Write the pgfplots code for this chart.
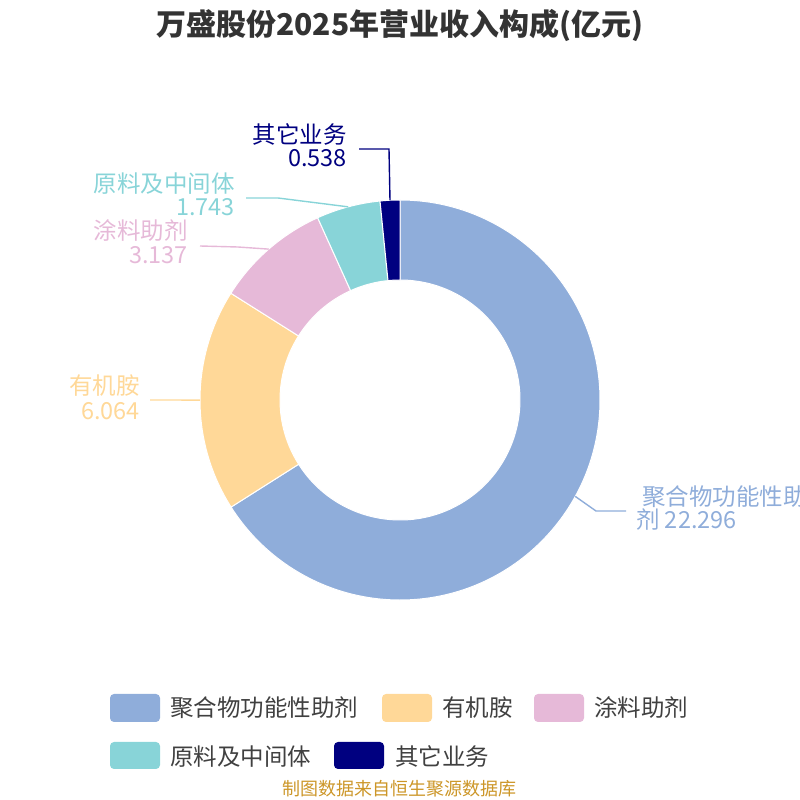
\documentclass[border=0pt]{standalone}
\usepackage{pgfplots}
\pgfplotsset{compat=1.18}
\usepackage{pgfplotstable}
\usepackage{fontspec}
\setmainfont{Noto Sans CJK SC}
\usetikzlibrary{calc}

\definecolor{cA}{RGB}{143,173,218}
\definecolor{cB}{RGB}{255,216,152}
\definecolor{cC}{RGB}{230,185,216}
\definecolor{cD}{RGB}{136,212,216}
\definecolor{cE}{RGB}{0,0,128}
\definecolor{titlec}{RGB}{51,51,51}
\definecolor{legc}{RGB}{64,64,64}
\definecolor{srcc}{RGB}{204,150,40}

\pgfplotstableread{
name value
A 22.296
B 6.064
C 3.137
D 1.743
E 0.538
}\datatable

\newcommand\sector[3]{%
  \fill[#1, draw=white, line width=1bp]
    ($(axis cs:400,400)+(#2:200bp)$) arc[start angle=#2, end angle=#3, radius=200bp]
    -- ($(axis cs:400,400)+(#3:120bp)$) arc[start angle=#3, end angle=#2, radius=120bp]
    -- cycle;}

\tikzset{lab/.style={inner sep=0, font=\fontsize{23.5bp}{24bp}\selectfont}}

\begin{document}
\begin{tikzpicture}
\useasboundingbox (0,0) rectangle (800bp,800bp);
\pgfplotstablegetelem{0}{value}\of\datatable \pgfmathsetmacro\vA{\pgfplotsretval}
\pgfplotstablegetelem{1}{value}\of\datatable \pgfmathsetmacro\vB{\pgfplotsretval}
\pgfplotstablegetelem{2}{value}\of\datatable \pgfmathsetmacro\vC{\pgfplotsretval}
\pgfplotstablegetelem{3}{value}\of\datatable \pgfmathsetmacro\vD{\pgfplotsretval}
\pgfplotstablegetelem{4}{value}\of\datatable \pgfmathsetmacro\vE{\pgfplotsretval}
\pgfmathsetmacro\T{\vA+\vB+\vC+\vD+\vE}
\pgfmathsetmacro\aA{90}
\pgfmathsetmacro\aB{\aA-360*\vA/\T}
\pgfmathsetmacro\aC{\aB-360*\vB/\T}
\pgfmathsetmacro\aD{\aC-360*\vC/\T}
\pgfmathsetmacro\aE{\aD-360*\vD/\T}
\pgfmathsetmacro\aF{\aE-360*\vE/\T}
\pgfmathsetmacro\mA{(\aA+\aB)/2}
\pgfmathsetmacro\mB{(\aB+\aC)/2}
\pgfmathsetmacro\mC{(\aC+\aD)/2}
\pgfmathsetmacro\mD{(\aD+\aE)/2}
\pgfmathsetmacro\mE{(\aE+\aF)/2}
\begin{axis}[
  at={(0,0)}, anchor=south west,
  scale only axis, width=800bp, height=800bp,
  xmin=0, xmax=800, ymin=0, ymax=800,
  hide axis, clip=false]
\addplot[draw=none, forget plot] coordinates {(0,0) (800,800)};
\sector{cA}{\aA}{\aB}
\sector{cB}{\aB}{\aC}
\sector{cC}{\aC}{\aD}
\sector{cD}{\aD}{\aE}
\sector{cE}{\aE}{\aF}
% leader lines
\draw[cA, line width=1.4bp] ($(axis cs:400,400)+(\mA:200bp)$) -- (axis cs:596,289) -- (axis cs:626,289);
\draw[cB, line width=1.4bp] ($(axis cs:400,400)+(\mB:200bp)$) -- (axis cs:175,400) -- (axis cs:150,400);
\draw[cC, line width=1.4bp] ($(axis cs:400,400)+(\mC:200bp)$) -- (axis cs:238,553) -- (axis cs:200,554);
\draw[cD, line width=1.4bp] ($(axis cs:400,400)+(\mD:200bp)$) -- (axis cs:278,602) -- (axis cs:246,602);
\draw[cE, line width=1.4bp] ($(axis cs:400,400)+(\mE:200bp)$) -- (axis cs:389,651) -- (axis cs:359,651);
% labels
\node[cA, lab, anchor=base west] at (axis cs:642,295) {聚合物功能性助剂};
\node[cA, lab, anchor=base west] at (axis cs:636,272) {剂 22.296};
\node[cB, lab, anchor=base east] at (axis cs:140,405) {有机胺};
\node[cB, lab, anchor=base east] at (axis cs:140,381) {6.064};
\node[cC, lab, anchor=base east] at (axis cs:188,560) {涂料助剂};
\node[cC, lab, anchor=base east] at (axis cs:188,536) {3.137};
\node[cD, lab, anchor=base east] at (axis cs:235,607.5) {原料及中间体};
\node[cD, lab, anchor=base east] at (axis cs:235,584) {1.743};
\node[cE, lab, anchor=base east] at (axis cs:347,656) {其它业务};
\node[cE, lab, anchor=base east] at (axis cs:347,633) {0.538};
% legend
\fill[cA, rounded corners=4bp] (axis cs:110,78) rectangle (axis cs:160,106);
\fill[cB, rounded corners=4bp] (axis cs:382,78) rectangle (axis cs:432,106);
\fill[cC, rounded corners=4bp] (axis cs:534,78) rectangle (axis cs:584,106);
\fill[cD, rounded corners=4bp] (axis cs:110,31) rectangle (axis cs:160,58);
\fill[cE, rounded corners=4bp] (axis cs:334,31) rectangle (axis cs:384,58);
\node[legc, lab, anchor=base west] at (axis cs:170,83.5) {聚合物功能性助剂};
\node[legc, lab, anchor=base west] at (axis cs:442,83.5) {有机胺};
\node[legc, lab, anchor=base west] at (axis cs:594,83.5) {涂料助剂};
\node[legc, lab, anchor=base west] at (axis cs:170,35) {原料及中间体};
\node[legc, lab, anchor=base west] at (axis cs:395,35) {其它业务};
% title
\node[titlec, anchor=base, inner sep=0, font=\fontsize{30bp}{31bp}\selectfont\bfseries] at (axis cs:400,764) {万盛股份2025年营业收入构成(亿元)};
% source
\node[srcc, anchor=base, inner sep=0, font=\fontsize{18bp}{19bp}\selectfont] at (axis cs:400,5) {制图数据来自恒生聚源数据库};
\end{axis}
\end{tikzpicture}
\end{document}
